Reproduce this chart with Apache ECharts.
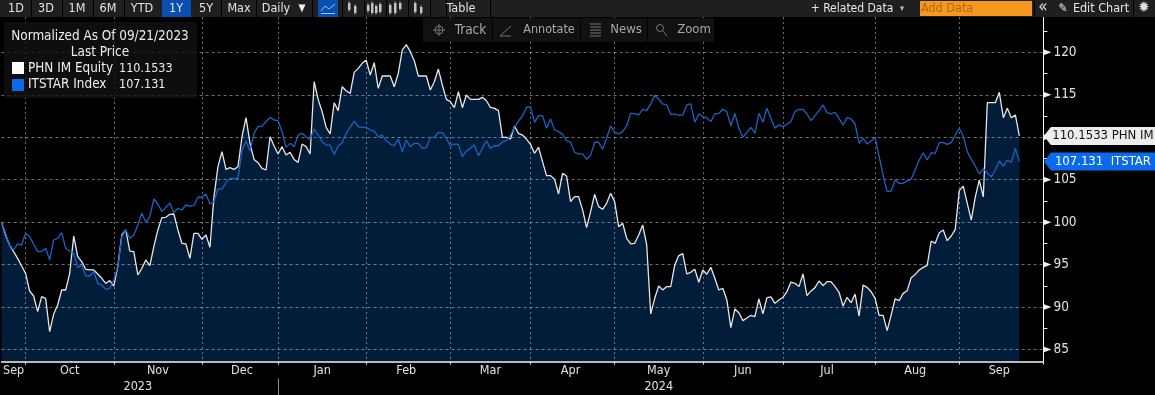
<!DOCTYPE html>
<html>
<head>
<meta charset="utf-8">
<style>html,body{margin:0;padding:0;background:#000}#c{width:1155px;height:395px}</style>
<script src="https://cdn.jsdelivr.net/npm/echarts@6/dist/echarts.min.js"></script>
</head>
<body>
<div id="c"></div>
<script>
const phnValues = [100,98.49,97.31,96.53,95.74,94.84,93.97,91.89,91.3,89.46,91.23,91.03,87.1,89.18,90.24,92.01,92.01,93.97,98.37,95.94,95.35,94.45,94.37,94.37,93.9,93.39,92.8,93.11,92.48,94.76,98.49,99.08,96.6,96.53,93.78,94.56,95.55,94.88,97.12,99.08,100.53,100.57,100.92,100.96,99.08,97.51,97.43,95.74,98.69,98.69,97.98,98.49,97.04,103,
106.53,108.3,106.22,106.41,106.22,106.53,110.06,112.3,109.28,107.39,107,106.33,106.14,110.06,108.97,108.02,108.89,107.9,108.22,107.39,107.04,109.2,108.89,108.02,116.54,114.46,113.01,111.16,110.38,114.07,113.13,115.95,115.48,115.17,117.64,118.11,118.7,119.09,117.33,118.78,115.76,117.21,117.21,117.21,115.95,117.52,120.27,120.9,120.08,119.02,117.21,117.21,117.21,115.56,116.54,118.03,116.15,114.46,114.19,113.48,115.36,113.48,114.97,114.46,114.46,114.46,114.7,114.3,113.52,113.4,113.13,109.99,109.99,109.79,
111.33,110.46,110.26,109.79,109.16,108.11,108.82,107.13,105.48,105.48,105.05,103.32,105.75,105.44,102.42,103.01,103.01,101.44,99.35,101.24,103.28,101.83,101.51,102.22,103.4,102.42,99.47,99.87,98.1,97.43,97.51,98.49,99.67,97.31,89.19,91.03,92.48,92.01,92.41,92.41,94.96,96.06,96.29,93.9,94.09,94.45,92.92,94.37,93.86,94.68,93.39,92.01,92.21,90.84,87.58,89.77,89.34,88.4,88.71,89.03,88.87,90.95,89.19,91.11,91.19,90.44,90.84,91.15,91.82,92.95,92.8,92.41,93.9,91.35,91.9,92.29,93.07,92.52,93,93,92.41,91.74,90.13,91.15,90.52,
91.53,88.94,92.59,92.32,91.81,91.02,89.02,89.02,87.22,89.06,90.98,90.75,91.61,91.93,93.46,93.85,94.36,94.67,94.91,97.78,97.5,98.76,99.07,97.82,98.37,99.15,103.71,104.25,102.21,100.25,102.98,104.96,102.98,114.07,114.07,114.07,115.29,112.3,113.4,112.3,112.62,110.1533];

const itstarValues = [100,98.69,97.31,96.72,97.43,97.31,98.69,98.29,97.43,96.53,96.53,96.92,95.55,97.9,98.1,98.76,96.92,96.6,96.33,94.68,94.95,93.66,93.66,94.17,92.8,92.6,92.09,92.21,93.19,94.76,98.29,99.08,98.1,98.49,99.67,101.04,99.98,100.65,102.73,102.14,101.24,101.75,102.22,101.12,101.63,101.43,102.02,101.9,101.94,102.93,102.93,103.32,102.14,102.42,
103.9,103.9,104.65,105.16,105.16,105.16,108.49,109.55,108.38,110.46,111.24,111.32,111.83,112.34,112.03,111.95,110.65,108.81,109.28,108.89,110.26,110.46,110.06,109.75,110.97,110.26,109.48,109.08,109.08,107.98,108.97,109.36,110.46,111.16,111.91,111.24,111.16,111.16,110.85,110.73,110.06,110.26,109.59,109.2,109,109.79,108.3,109.67,108.89,109.28,109.28,108.69,108.77,109.99,109.99,110.57,110.54,109.87,108.97,109.2,109.16,107.71,108.38,108.69,109.08,107.83,108.69,109.59,108.69,109,109,109.48,109.59,110.26,111.16,111.91,112.5,113.52,113.6,111.75,112.54,112.54,111.05,112.15,
110.86,110.66,110.35,109.6,109.41,108.23,108.03,108.03,107.4,107.87,109.41,109.41,108.58,109.88,111.33,110.58,110.39,110.66,111.33,112.82,112.74,112.63,113.29,113.14,113.92,114.98,114.47,113.92,113.8,112.7,112.74,112.59,112.63,113.8,113.92,111.76,112.74,112.43,112.27,111.84,112.74,112.82,113.29,113.02,111.33,112.82,111.05,110,110.58,111.17,110.47,112.82,111.76,113.41,112.23,111.05,111.45,111.25,111.53,111.84,113.02,113.29,113.29,112.74,111.96,112.51,113.14,113.8,112.9,112.74,112.94,112.23,111.41,112.31,112.15,
111.56,109.28,109.87,109.2,109.55,109.99,107.71,105.55,103.59,103.67,104.96,104.57,104.57,104.88,105.04,106.14,107.32,108.18,107.32,108.18,108.1,109.36,109.36,109.16,109.36,110.26,111.05,110.14,108.3,107.43,106.61,105.67,106.3,105.75,105.35,106.14,107.2,106.61,107.32,107.04,108.69,107.131];

const holidays = ['2023-12-25','2023-12-26','2024-01-01','2024-03-29','2024-04-01','2024-05-01','2024-08-15'];
const tradingDays = (function () {
  const out = [];
  const d = new Date(Date.UTC(2023, 8, 21));
  while (out.length < 261) {
    const s = d.toISOString().slice(0, 10);
    const w = d.getUTCDay();
    if (w !== 0 && w !== 6 && holidays.indexOf(s) < 0) out.push(s);
    d.setUTCDate(d.getUTCDate() + 1);
  }
  return out;
})();

const monthTickIdx = [6,28,50,69,91,112,132,153,175,195,218,239,260];
const monthGridIdx = [6,28,50,69,91,112,132,153,175,195,218,239];
const monthLabelIdx = [3,17,39,60,80,101,122,142,164,185,206,228,249];
const monthLabels = ['Sep','Oct','Nov','Dec','Jan','Feb','Mar','Apr','May','Jun','Jul','Aug','Sep'];
const yearLabelIdx = [34,164];
const yearLabels = ['2023','2024'];
const yearTickIdx = [69];
const yMajor = [85,90,95,100,105,110,115,120];
const yMinor = [87.5,92.5,97.5,102.5,107.5,112.5,117.5,122.5];
const rangeButtons = [['1D',16],['3D',46],['1M',77],['6M',108],['YTD',142],['1Y',176],['5Y',206],['Max',239]];

const FONT = '"DejaVu Sans Condensed","DejaVu Sans",sans-serif';
const TXT = '#e2e2e2';
const GRID = 'rgba(220,220,220,0.5)';

function rect(x, y, w, h, fill, z) {
  return {type:'rect', z: z||50, silent:true, shape:{x,y,width:w,height:h}, style:{fill}};
}
function text(x, y, t, o) {
  o = o||{};
  return {type:'text', z: o.z||60, silent:true, x, y, style:{text:t, fill:o.fill||TXT, font:(o.size||12.5)+'px '+FONT, textAlign:o.align||'center', textVerticalAlign:'middle'}};
}
function line(x1,y1,x2,y2,stroke,z) {
  return {type:'line', z:z||60, silent:true, shape:{x1,y1,x2,y2}, style:{stroke, lineWidth:1}};
}

const chrome = [];
// top toolbar
chrome.push(rect(0,0,1155,17,'#1f1f1f'));
[31,62,93,124,162,190,221,256,312,342,364,386,408,430,446,490].forEach(x=>chrome.push(rect(x,0,1,17,'#000',51)));
chrome.push(rect(162,0,29,17,'#0a4fb0',52));
rangeButtons.forEach(b=>chrome.push(text(b[1],8.5,b[0])));
chrome.push(text(276,8.5,'Daily'));
chrome.push(text(302,8.5,'▼',{size:10,fill:'#eee'}));
chrome.push(rect(318,0,20,17,'#0a4fb0',52));
chrome.push({type:'polyline',z:60,silent:true,shape:{points:[[321,11],[325,6],[329,9],[335,4]]},style:{stroke:'#9cc4f5',fill:null,lineWidth:1}});
chrome.push(line(321,13.5,335,13.5,'#9cc4f5'));
// chart-type icons
[[348,3,7],[354,6,7],[367,5,6],[371,3,10],[375,6,7],[379,4,8],[389,5,8],[394,3,10],[399,3,6],[414,3,9],[420,7,6]].forEach(b=>{
  chrome.push(line(b[0]+1,b[1]-2,b[0]+1,b[1]+b[2]+2,'#888'));
  chrome.push(rect(b[0],b[1],2.5,b[2],'#c4c4c4',60));
});
chrome.push(text(461,8.5,'Table'));
chrome.push(text(852,8.5,'+ Related Data',{size:12,fill:'#e6e6e6'}));
chrome.push(text(902,8.5,'▾',{size:9,fill:'#bbb'}));
chrome.push(rect(920,1,112,15,'#f6971f',52));
chrome.push(text(921,8.5,'Add Data',{align:'left',fill:'#b06a10'}));
chrome.push(rect(1034,0,1,17,'#000',51));
chrome.push(text(1043,7.5,'«',{size:17,fill:'#ddd'}));
chrome.push(text(1063,8.5,'✎',{size:12,fill:'#eee'}));
chrome.push(text(1101,8.5,'Edit Chart',{fill:'#e6e6e6'}));
chrome.push(rect(1133,0,1,17,'#000',51));
chrome.push(text(1144,8.5,'✹',{size:15,fill:'#ddd'}));
// track bar
[[423,69],[493,87],[581,66],[648,66]].forEach(b=>chrome.push(rect(b[0],18,b[1],24,'#111',52)));
chrome.push({type:'circle',z:60,silent:true,shape:{cx:439,cy:30,r:4},style:{stroke:'#777',fill:null}});
chrome.push(line(439,24,439,36,'#777'));
chrome.push(line(433,30,445,30,'#777'));
chrome.push(text(470.5,30,'Track',{fill:'#a8a8a8',size:13.5}));
chrome.push(line(500,36,511,26,'#777'));
chrome.push(line(500,36,511,36,'#777'));
chrome.push(text(549,30,'Annotate',{fill:'#a8a8a8'}));
[24,27,30,33,36].forEach(y=>chrome.push(line(590,y,601,y,'#777')));
chrome.push(text(626,30,'News',{fill:'#a8a8a8',size:13}));
chrome.push({type:'circle',z:60,silent:true,shape:{cx:660,cy:28,r:3.5},style:{stroke:'#777',fill:null}});
chrome.push(line(663,31,667,36,'#777'));
chrome.push(text(694,30,'Zoom',{fill:'#a8a8a8',size:13}));
// legend box
chrome.push({type:'rect',z:52,silent:true,shape:{x:4,y:22,width:193,height:76,r:3},style:{fill:'rgba(18,18,18,0.8)'}});
chrome.push(text(100,37,'Normalized As Of 09/21/2023',{fill:'#eee',size:13.4}));
chrome.push(text(100,53,'Last Price',{fill:'#eee',size:13.4}));
chrome.push(rect(12,62,12,12,'#fff',60));
chrome.push(text(28,69,'PHN IM Equity',{align:'left',fill:'#eee',size:13.4}));
chrome.push(text(119,69,'110.1533',{align:'left',fill:'#eee',size:12.5}));
chrome.push(rect(12,79,12,12,'#0a6bea',60));
chrome.push(text(28,85,'ITSTAR Index',{align:'left',fill:'#eee',size:13.4}));
chrome.push(text(119,85,'107.131',{align:'left',fill:'#eee',size:12.5}));

const yMin = 83.59, yMax = 124.16;
const triangles = yMajor.map(v=>({
  coord:[260,v], symbol:'path://M0,0L8,3L0,6Z', symbolSize:[8,6], symbolOffset:[4,0],
  itemStyle:{color:'#f2f2f2'}, label:{show:false}
}));
const tagPath = 'path://M0,9L7,0L112,0L112,18L7,18Z';
const tags = [
 {coord:[260,110.1533], symbol:tagPath, symbolSize:[112,18], symbolOffset:[56.5,0], itemStyle:{color:'#ececec'},
  label:{show:true,position:'inside',formatter:'110.1533 PHN IM',color:'#111',fontFamily:FONT,fontSize:13,offset:[3,0]}},
 {coord:[260,107.131], symbol:tagPath, symbolSize:[112,18], symbolOffset:[56.5,0], itemStyle:{color:'#0a6bea'},
  label:{show:true,position:'inside',formatter:'107.131  ITSTAR',color:'#fff',fontFamily:FONT,fontSize:13,offset:[3,0]}}
];

const labelByDate = {};
monthLabelIdx.forEach((i,k)=>{labelByDate[tradingDays[i]] = monthLabels[k];});
const yearByDate = {};
yearLabelIdx.forEach((i,k)=>{yearByDate[tradingDays[i]] = yearLabels[k];});

const chart = echarts.init(document.getElementById('c'), null, {renderer:'canvas'});
chart.setOption({
  animation:false,
  backgroundColor:'#000',
  textStyle:{fontFamily:FONT},
  tooltip:{show:false},
  legend:{show:false},
  grid:{left:0, right:111.6, top:17, bottom:33.5, containLabel:false},
  xAxis:[{
    type:'category', data:tradingDays, boundaryGap:false, z:3,
    axisLine:{show:true,onZero:false,lineStyle:{color:'#f6f6f6',width:1.5}},
    axisTick:{show:true,length:3,interval:(i)=>monthTickIdx.indexOf(i)>=0,lineStyle:{color:'#f0f0f0'}},
    axisLabel:{show:true,interval:(i)=>monthLabelIdx.indexOf(i)>=0,formatter:(v)=>labelByDate[v]||'',color:TXT,fontFamily:FONT,fontSize:12.5,margin:3,hideOverlap:false},
    splitLine:{show:true,interval:(i)=>monthGridIdx.indexOf(i)>=0,lineStyle:{color:GRID,type:[2,3],width:1}}
  },{
    type:'category', data:tradingDays, boundaryGap:false, position:'bottom', offset:17,
    axisLine:{show:false},
    axisTick:{show:true,length:17,interval:(i)=>yearTickIdx.indexOf(i)>=0,lineStyle:{color:'#8a8a8a'}},
    axisLabel:{show:true,interval:(i)=>yearLabelIdx.indexOf(i)>=0,formatter:(v)=>yearByDate[v]||'',color:TXT,fontFamily:FONT,fontSize:12.5,margin:2,hideOverlap:false},
    splitLine:{show:false}
  }],
  yAxis:[{
    type:'value', position:'right', min:yMin, max:yMax, z:3, scale:true,
    axisLine:{show:true,lineStyle:{color:'#f6f6f6',width:1}},
    axisTick:{show:false,customValues:yMajor},
    axisLabel:{show:true,customValues:yMajor,color:TXT,fontFamily:FONT,fontSize:13.5,margin:10,padding:[2,0,0,0],showMinLabel:true,showMaxLabel:true,hideOverlap:false},
    splitLine:{show:true,lineStyle:{color:GRID,type:[3,3],width:1}}
  },{
    type:'value', position:'right', min:yMin, max:yMax, scale:true,
    axisLine:{show:false},
    axisTick:{show:true,length:4,customValues:yMinor,lineStyle:{color:'#f0f0f0'}},
    axisLabel:{show:false},
    splitLine:{show:false}
  }],
  graphic:{elements:chrome},
  series:[{
    name:'PHN IM Equity area', type:'line', data:phnValues, xAxisIndex:0, yAxisIndex:0,
    showSymbol:false, smooth:false, z:1, silent:true,
    lineStyle:{width:0,opacity:0},
    areaStyle:{color:'#021d3a',opacity:1,origin:'start'}
  },{
    name:'PHN IM Equity', type:'line', data:phnValues, xAxisIndex:0, yAxisIndex:0,
    showSymbol:false, smooth:false, z:4, silent:true,
    lineStyle:{color:'#e6e6e6',width:1.3},
    markPoint:{silent:true,animation:false,data:triangles.concat(tags)}
  },{
    name:'ITSTAR Index', type:'line', data:itstarValues, xAxisIndex:0, yAxisIndex:0,
    showSymbol:false, smooth:false, z:4, silent:true,
    lineStyle:{color:'#1c62c4',width:1.3}
  }]
});
</script>
</body>
</html>
